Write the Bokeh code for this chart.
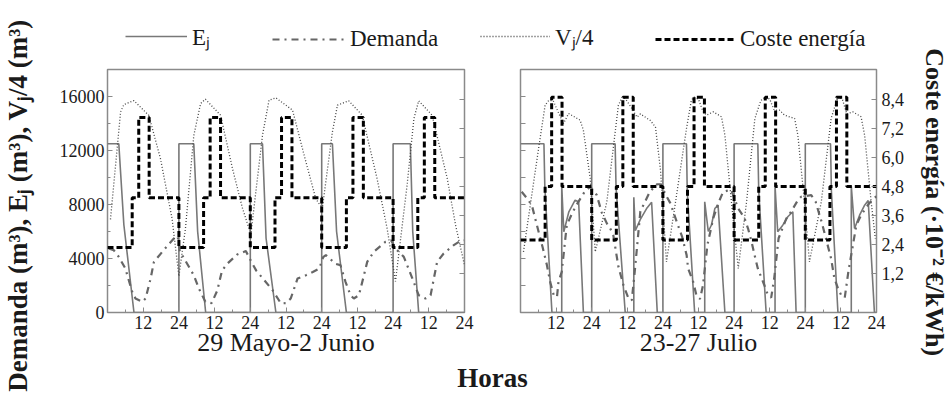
import math
from bokeh.plotting import figure
from bokeh.models import (Range1d, LinearAxis, FixedTicker, Legend, LegendItem, Label)
from bokeh.layouts import row, column
from bokeh.embed import file_html
from bokeh.resources import INLINE

FONT = "Liberation Serif"

# ---------------- tick definitions ----------------
hour_ticks = [12, 24, 36, 48, 60, 72, 84, 96, 108, 120]
hour_tick_labels = ["12", "24", "12", "24", "12", "24", "12", "24", "12", "24"]
hour_minor_ticks = [6, 18, 30, 42, 54, 66, 78, 90, 102, 114]

vol_ticks = [0, 4000, 8000, 12000, 16000]
vol_tick_labels = ["0", "4000", "8000", "12000", "16000"]
vol_minor_ticks = [2000, 6000, 10000, 14000]
vol_ticks_b = [2000, 4000, 6000, 8000, 10000, 12000, 14000, 16000]

cost_ticks = [1.2, 2.4, 3.6, 4.8, 6.0, 7.2, 8.4]
cost_tick_labels = ["1,2", "2,4", "3,6", "4,8", "6,0", "7,2", "8,4"]

panel_titles = ["29 Mayo-2 Junio", "23-27 Julio"]
series_names = ["E\u2c7c", "Demanda", "V\u2c7c/4", "Coste energía"]

# ---------------- panel A: 29 Mayo - 2 Junio ----------------
ej_a_hours = [0, 3.8, 5.5, 8.9, 24, 24, 29, 30.3, 33, 48, 48, 52.1, 53.3, 56.6,
              72, 72, 75.6, 77, 80.3, 96, 96, 101.8, 102.6, 104.6, 120]
ej_a = [12500, 12500, 6500, 0, 0, 12500, 12500, 6000, 0, 0, 12500, 12500, 5500, 0,
        0, 12500, 12500, 6000, 0, 0, 12500, 12500, 6000, 0, 0]

dem_a_hours = [0.4, 2.1, 3.8, 6.0, 8.3, 9.4, 11.7, 12.8, 14.5, 15.6, 18.9, 22.3, 23.6,
               24.3, 25.1, 29.0, 30.7, 32.9, 35.0, 36.9, 38.5, 40.2, 43.6, 46.5,
               48.5, 50.0, 52.7, 55.5, 58.3, 60.0, 61.6, 63.9, 66.7, 69.0, 71.2,
               72.5, 73.4, 76.7, 78.3, 80.0, 81.7, 82.8, 84.5, 86.2, 87.3, 89.5, 93.4, 95.3,
               96.8, 99.6, 102.4, 104.6, 106.9, 108.6, 110.8, 113.0, 116.4, 118.1, 119.8]
dem_a = [4740, 4620, 4120, 3260, 1530, 1040, 790, 1040, 2520, 3750, 4620, 5480, 5650,
         4500, 4250, 2760, 1780, 790, 700, 1630, 3100, 3600, 4300, 4550,
         3700, 3100, 2400, 1650, 670, 700, 1040, 2520, 2760, 3000, 3260,
         4100, 4250, 3600, 3510, 2270, 1280, 1040, 1280, 2760, 3750, 4490, 5230, 5350,
         4740, 4120, 2570, 1280, 1040, 1280, 3750, 4370, 4990, 5230, 5350]

vol_a_hours = [1.0, 4.4, 5.5, 8.85, 13.9, 17.8, 21.7, 24.0,
               26.2, 29.0, 31.3, 32.9, 38.0, 42.0, 45.4, 48.2,
               52.1, 54.3, 56.6, 62.2, 66.1, 70.0, 72.2,
               75.6, 77.3, 81.1, 85.6, 90.6, 94.0, 96.8,
               100.7, 103.0, 104.6, 109.1, 114.2, 117.0, 120.0]
vol_a = [6900, 14860, 15400, 15700, 14600, 11400, 6960, 2700,
         6220, 13100, 15480, 15800, 14620, 10670, 7700, 5800,
         13130, 15730, 15900, 14990, 11650, 8440, 7700,
         13380, 15360, 15680, 14620, 9930, 6220, 2300,
         9430, 14370, 15680, 14620, 9930, 6470, 3500]

cost_hours = [0, 8.3, 10.5, 14, 24, 32.3, 34.5, 38, 48, 56.3, 58.5, 62,
              72, 80.3, 82.5, 86, 96, 104.3, 106.5, 110, 120]
cost_a = [2.27, 4.33, 7.66, 4.33, 2.27, 4.33, 7.66, 4.33, 2.27, 4.33, 7.66, 4.33,
          2.27, 4.33, 7.66, 4.33, 2.27, 4.33, 7.66, 4.33, 4.33]

# ---------------- panel B: 23-27 Julio ----------------
ej_b_hours = [0, 7.9, 8.2, 10.6, 13.9, 13.9, 14.6, 16.3, 18.4, 19.6, 21.2, 24,
              24, 31.9, 32.2, 35.3, 38.2, 38.2, 38.7, 40.4, 42.5, 44.2, 46.1, 48,
              48, 55.95, 56.2, 58.7, 62.1, 62.1, 63.3, 64.4, 65.5, 66.6, 68.9, 72,
              72, 80.0, 80.3, 82.8, 85.8, 85.8, 86.7, 88.4, 90.1, 91.8, 92.9, 96,
              96, 104.5, 104.8, 107.0, 111.5, 111.5, 112.6, 114.3, 116.0, 117.2, 119.3, 120]
ej_b = [12500, 12500, 9300, 0, 0, 9400, 5980, 7460, 8320, 8200, 0, 0,
        12500, 12500, 9300, 0, 0, 8540, 6070, 6900, 7700, 8170, 0, 0,
        12500, 12500, 9000, 0, 0, 8200, 6000, 6500, 7700, 7950, 0, 0,
        12500, 12500, 9000, 0, 0, 9360, 5980, 6470, 7090, 7460, 0, 0,
        12500, 12500, 9000, 0, 0, 9360, 6220, 7210, 7950, 8300, 0, 0]

dem_b_hours = [0.4, 2.7, 3.9, 6.1, 7.5, 8.9, 10.0, 11.2, 12.3, 12.8, 13.9, 15.6, 17.5, 19.5, 21.5, 23.5,
               25.7, 27.4, 29.1, 30.3, 31.3, 33.0, 34.7, 36.4, 37.5, 38.5, 40.4, 43.6, 46.0, 47.2,
               49.4, 50.5, 52.7, 54.5, 56.0, 56.5, 58.2, 59.3, 60.5, 61.5, 63.0, 65.0, 66.5, 68.3, 71.0,
               73.4, 75.5, 76.7, 77.9, 78.9, 80.0, 82.2, 83.4, 84.5, 85.5, 87.0, 89.6, 91.2, 93.5, 94.6,
               98.0, 99.5, 100.8, 101.5, 104.7, 105.8, 107.0, 108.1, 109.3, 110.5, 113.2, 114.8, 117.1, 118.8, 120.0]
dem_b = [8940, 8320, 7880, 5980, 4800, 3510, 2270, 1280, 1150, 2270, 3010, 6470, 7400, 8200, 8900, 9310,
         8700, 7400, 6600, 6200, 5700, 3400, 2020, 1040, 900, 3000, 7500, 8940, 9500, 9500,
         8540, 8100, 6700, 5600, 4250, 3260, 2270, 1280, 1000, 2000, 5000, 7000, 8000, 8940, 9100,
         7700, 7000, 6220, 5230, 4250, 3260, 2020, 1280, 1100, 2500, 5500, 6960, 7460, 8320, 8570,
         8690, 8200, 7210, 6720, 4000, 2520, 1800, 1280, 1100, 3000, 6470, 7210, 7950, 8440, 8600]

vol_b_hours = [1.0, 4.0, 6.0, 8.3, 9.5, 11.0, 13.0, 14.5, 16.2, 20.1, 21.2, 23.5, 25.2,
               29.1, 33.0, 34.3, 35.3, 37.0, 39.3, 40.4, 43.8, 45.5, 47.2, 49.2,
               52.6, 55.95, 57.6, 58.5, 60.0, 61.5, 62.7, 65.0, 67.75, 68.9, 71.1, 73.4,
               76.2, 79.0, 81.0, 82.8, 84.0, 85.5, 87.3, 89.0, 92.4, 93.5, 95.7, 97.4,
               101.4, 104.7, 107.0, 108.5, 110.0, 112.0, 114.8, 116.0, 118.2, 119.6]
vol_b = [4490, 9000, 12000, 15360, 15700, 15700, 14700, 14000, 14740, 14250, 13500, 9930, 4490,
         8200, 15360, 15950, 15850, 15300, 14470, 14710, 14220, 13730, 10520, 3750,
         8690, 13630, 15730, 15950, 15800, 14900, 14620, 14860, 14500, 13130, 8200, 3260,
         8200, 14370, 15700, 15980, 15800, 15000, 14990, 14620, 14370, 13130, 8200, 3750,
         8200, 14370, 15980, 15800, 14700, 14860, 14500, 13130, 8200, 5480]

cost_b = [2.58, 4.8, 8.5, 4.8, 2.58, 4.8, 8.5, 4.8, 2.58, 4.8, 8.5, 4.8,
          2.58, 4.8, 8.5, 4.8, 2.58, 4.8, 8.5, 4.8, 4.8]

# ---------------- styles ----------------
FRAME = "#8a8a8a"
EJ_STYLE = dict(line_color="#787878", line_width=1.6)
DEM_STYLE = dict(line_color="#666666", line_width=2.2, line_dash="7 5 2 5")
VOL_STYLE = dict(line_color="#454545", line_width=1.3, line_dash="1 2")
COST_STYLE = dict(line_color="black", line_width=3, line_dash="6 3")


def style_axis(ax, font_size="18px"):
    ax.axis_line_color = None
    ax.major_tick_in = 5
    ax.major_tick_out = 0
    ax.minor_tick_in = 3
    ax.minor_tick_out = 0
    ax.major_tick_line_color = FRAME
    ax.minor_tick_line_color = FRAME
    ax.major_label_text_font = FONT
    ax.major_label_text_font_size = font_size
    ax.major_label_text_color = "#1a1a1a"
    ax.major_label_standoff = 3


def make_panel(width, bl, br, title, ej_h, ej, dem_h, dem, vol_h, vol, cost, left_labels):
    p = figure(width=width, height=297, x_range=Range1d(0, 120), y_range=Range1d(0, 18000),
               output_backend="svg", toolbar_location=None,
               min_border_left=bl, min_border_right=br, min_border_top=6, min_border_bottom=48)
    p.extra_y_ranges = {"cost": Range1d(-0.42, 9.645)}
    p.grid.visible = False
    p.outline_line_color = FRAME
    p.outline_line_width = 1.5
    p.background_fill_color = "white"
    p.border_fill_color = "white"

    xa = p.xaxis[0]
    xa.ticker = FixedTicker(ticks=hour_ticks, minor_ticks=hour_minor_ticks)
    xa.major_label_overrides = dict(zip(hour_ticks, hour_tick_labels))
    style_axis(xa)
    xa.axis_label = title
    xa.axis_label_text_font = FONT
    xa.axis_label_text_font_style = "normal"
    xa.axis_label_text_font_size = "26px"
    xa.axis_label_text_color = "#1a1a1a"
    xa.axis_label_standoff = -4

    ya = p.yaxis[0]
    if left_labels:
        ya.ticker = FixedTicker(ticks=vol_ticks, minor_ticks=vol_minor_ticks)
        ya.major_label_overrides = dict(zip(vol_ticks, vol_tick_labels))
    else:
        ya.ticker = FixedTicker(ticks=vol_ticks_b)
        ya.major_label_overrides = {t: "" for t in vol_ticks_b}
    style_axis(ya)

    ra = LinearAxis(y_range_name="cost", ticker=FixedTicker(ticks=cost_ticks))
    if left_labels:
        ra.major_label_overrides = {t: "" for t in cost_ticks}
    else:
        ra.major_label_overrides = dict(zip(cost_ticks, cost_tick_labels))
    style_axis(ra)
    ra.major_label_standoff = 5
    p.add_layout(ra, "right")

    p.line(ej_h, ej, **EJ_STYLE)
    p.line(dem_h, dem, **DEM_STYLE)
    p.line(vol_h, vol, **VOL_STYLE)
    p.step(cost_hours, cost, mode="after", y_range_name="cost", **COST_STYLE)
    return p


fig_a = make_panel(442, 59, 26, panel_titles[0], ej_a_hours, ej_a, dem_a_hours, dem_a,
                   vol_a_hours, vol_a, cost_a, True)
fig_b = make_panel(422, 30, 36, panel_titles[1], ej_b_hours, ej_b, dem_b_hours, dem_b,
                   vol_b_hours, vol_b, cost_b, False)


def blank(width, height):
    p = figure(width=width, height=height, x_range=Range1d(0, 1), y_range=Range1d(0, 1),
               x_axis_type=None, y_axis_type=None, output_backend="svg",
               toolbar_location=None, min_border=0)
    p.outline_line_color = None
    p.background_fill_color = "white"
    p.border_fill_color = "white"
    return p


# legend strip: one legend per series so each sits where the reference puts it
leg = blank(864, 63)
nan = float("nan")
styles = [EJ_STYLE, DEM_STYLE, VOL_STYLE, COST_STYLE]
legend_x = [77, 224, 432, 607]
glyph_w = [62, 73, 70, 80]
for name, st, lx, gw in zip(series_names, styles, legend_x, glyph_w):
    r = leg.line(x=[nan, nan], y=[nan, nan], **st)
    lg = Legend(items=[LegendItem(label=name, renderers=[r])],
                location=(lx, 11), orientation="horizontal", glyph_width=gw,
                label_standoff=5, padding=0, margin=0,
                border_line_color=None, background_fill_alpha=0,
                label_text_font=FONT, label_text_font_size="23px",
                label_text_color="#1a1a1a")
    leg.add_layout(lg, "center")

# bottom strip
bot = blank(864, 41)
bot.add_layout(Label(x=444, y=24, x_units="screen", y_units="screen", text="Horas",
                     text_font=FONT, text_font_style="bold", text_font_size="27px",
                     text_align="center", text_baseline="middle", text_color="#1a1a1a"))

# side labels
lab_l = blank(48, 401)
lab_l.add_layout(Label(x=17, y=196, x_units="screen", y_units="screen",
                       text="Demanda (m³), E\u2c7c (m³), V\u2c7c/4 (m³)", angle=math.pi / 2,
                       text_font=FONT, text_font_style="bold", text_font_size="27px",
                       text_align="center", text_baseline="middle", text_color="#1a1a1a"))
lab_r = blank(37, 401)
lab_r.add_layout(Label(x=22, y=196, x_units="screen", y_units="screen",
                       text="Coste  energía (·10⁻² €/kWh)", angle=-math.pi / 2,
                       text_font=FONT, text_font_style="bold", text_font_size="26px",
                       text_align="center", text_baseline="middle", text_color="#1a1a1a"))

layout = row(lab_l, column(leg, row(fig_a, fig_b), bot), lab_r)

open("out.html", "w").write(file_html(layout, INLINE))
